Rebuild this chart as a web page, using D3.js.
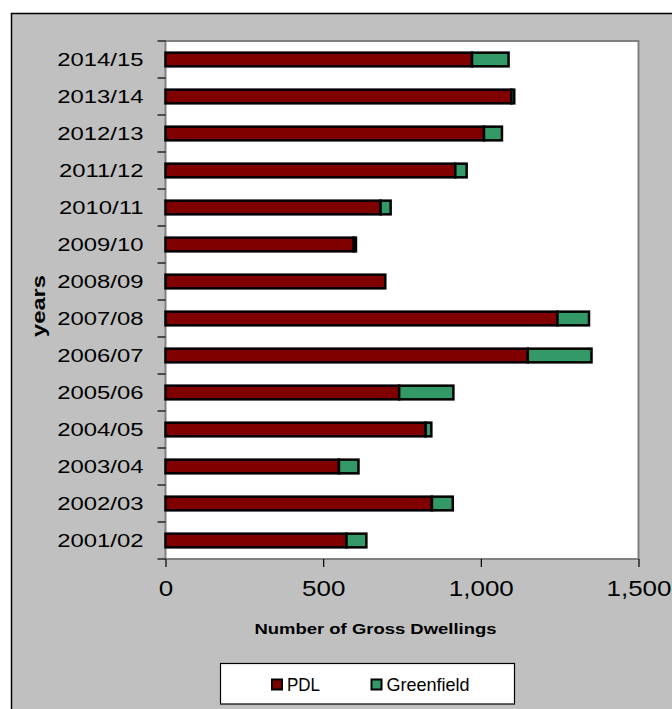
<!DOCTYPE html>
<html>
<head>
<meta charset="utf-8">
<script src="https://cdn.jsdelivr.net/npm/d3@7"></script>
<style>
  html, body { margin: 0; padding: 0; background: #ffffff; }
  svg { display: block; }
  text { font-family: "Liberation Sans", Arial, sans-serif; fill: #000; }
</style>
</head>
<body>
<svg id="chart" width="672" height="709"></svg>
<script>
// ---- data (chronological order, bottom to top in chart) ----
const categories = ["2001/02","2002/03","2003/04","2004/05","2005/06","2006/07","2007/08",
                    "2008/09","2009/10","2010/11","2011/12","2012/13","2013/14","2014/15"];
const pdl        = [574, 845, 550, 825, 741, 1149, 1243, 697, 597, 682, 919, 1010, 1097, 972];
const greenfield = [ 63,  66,  62,  18, 172,  202,  100,   0,   7,  32,  36,   57,    9, 116];
const xTicks = [0, 500, 1000, 1500];
const seriesNames = ["PDL", "Greenfield"];
const seriesColors = ["#800000", "#339966"];

// ---- layout ----
const svg = d3.select("#chart");
const plot = { left: 165.5, top: 41, right: 638.5, bottom: 559 };

// outer frame
svg.append("rect")
  .attr("x", 11.5).attr("y", 13.5)
  .attr("width", 700).attr("height", 720)
  .attr("fill", "#c0c0c0").attr("stroke", "#000").attr("stroke-width", 1.5);

// plot area
svg.append("rect")
  .attr("x", plot.left).attr("y", plot.top)
  .attr("width", plot.right - plot.left).attr("height", plot.bottom - plot.top)
  .attr("fill", "#ffffff").attr("stroke", "#808080").attr("stroke-width", 2);

// scales
const x = d3.scaleLinear().domain([0, 1500]).range([plot.left, plot.right]);
const y = d3.scaleBand()
  .domain(categories.slice().reverse())
  .range([plot.top, plot.bottom])
  .paddingInner(0.63).paddingOuter(0.315);

// bars
const rows = categories.map((c, i) => ({ cat: c, pdl: pdl[i], green: greenfield[i] }));
const gBars = svg.append("g");
gBars.selectAll("rect.pdl").data(rows).join("rect")
  .attr("class", "pdl")
  .attr("x", x(0)).attr("y", d => y(d.cat))
  .attr("width", d => x(d.pdl) - x(0)).attr("height", y.bandwidth())
  .attr("fill", seriesColors[0]).attr("stroke", "#000").attr("stroke-width", 2.5);
gBars.selectAll("rect.green").data(rows).join("rect")
  .attr("class", "green")
  .attr("x", d => x(d.pdl)).attr("y", d => y(d.cat))
  .attr("width", d => x(d.pdl + d.green) - x(d.pdl)).attr("height", y.bandwidth())
  .attr("fill", seriesColors[1]).attr("stroke", "#000").attr("stroke-width", 2.5);

// category axis (labels)
const sxCat = 1.29;
const yAxis = svg.append("g")
  .attr("transform", `translate(${plot.left},0)`)
  .call(d3.axisLeft(y).tickSize(0).tickPadding(0));
yAxis.select(".domain").remove();
yAxis.selectAll("text")
  .attr("x", -22 / sxCat)
  .attr("dy", "0.36em")
  .attr("transform", `scale(${sxCat},1)`)
  .style("font-size", "18.5px")
  .style("font-family", "'Liberation Sans', Arial, sans-serif");

// category boundary ticks
const gap = (y.step() - y.bandwidth()) / 2;
const bounds = categories.slice().reverse().map(c => y(c) - gap).concat([plot.bottom]);
svg.append("g").selectAll("line").data(bounds).join("line")
  .attr("x1", plot.left - 8).attr("x2", plot.left)
  .attr("y1", d => d).attr("y2", d => d)
  .attr("stroke", "#000").attr("stroke-width", 1.2);

// value axis
const sxX = 1.18;
const xAxis = svg.append("g")
  .attr("transform", `translate(0,${plot.bottom})`)
  .call(d3.axisBottom(x).tickValues(xTicks).tickFormat(d3.format(",")).tickSize(8));
xAxis.select(".domain").remove();
xAxis.selectAll("line").attr("stroke", "#000").attr("stroke-width", 1.2);
xAxis.selectAll("text")
  .attr("y", 37).attr("dy", null)
  .attr("transform", `scale(${sxX},1)`)
  .style("font-size", "22px")
  .style("font-family", "'Liberation Sans', Arial, sans-serif");

// axis titles
svg.append("text")
  .attr("x", 375.5).attr("y", 634)
  .attr("text-anchor", "middle")
  .attr("textLength", 242).attr("lengthAdjust", "spacingAndGlyphs")
  .style("font-size", "15.5px").style("font-weight", "bold")
  .text("Number of Gross Dwellings");

svg.append("text")
  .attr("transform", "translate(45,306) rotate(-90)")
  .attr("text-anchor", "middle")
  .attr("textLength", 62).attr("lengthAdjust", "spacingAndGlyphs")
  .style("font-size", "19px").style("font-weight", "bold")
  .text("years");

// legend
svg.append("rect")
  .attr("x", 220.5).attr("y", 663.5).attr("width", 294).attr("height", 40.5)
  .attr("fill", "#fff").attr("stroke", "#000").attr("stroke-width", 1.2);
const legendItems = [
  { name: seriesNames[0], color: seriesColors[0], mx: 272, tx: 287, tl: 33 },
  { name: seriesNames[1], color: seriesColors[1], mx: 371.5, tx: 386.5, tl: 83 }
];
const lg = svg.append("g");
lg.selectAll("rect").data(legendItems).join("rect")
  .attr("x", d => d.mx).attr("y", 679.5).attr("width", 10).attr("height", 10)
  .attr("fill", d => d.color).attr("stroke", "#000").attr("stroke-width", 2);
lg.selectAll("text").data(legendItems).join("text")
  .attr("x", d => d.tx).attr("y", 691)
  .attr("textLength", d => d.tl).attr("lengthAdjust", "spacingAndGlyphs")
  .style("font-size", "18.5px")
  .text(d => d.name);
</script>
</body>
</html>
